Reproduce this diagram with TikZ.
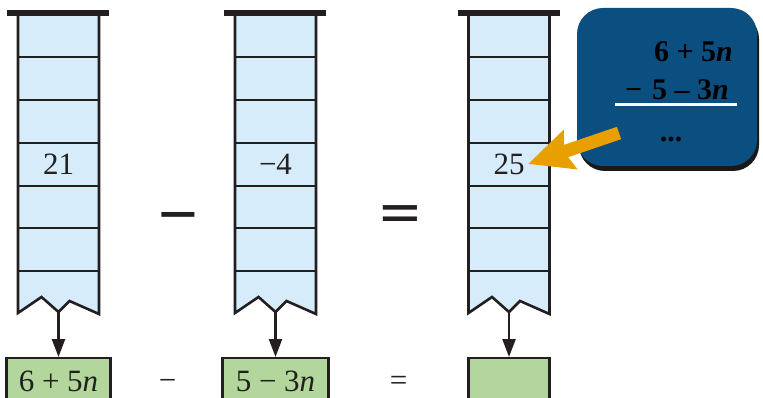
\documentclass[tikz,border=0pt]{standalone}
\usepackage{fontspec}
\setmainfont{Liberation Serif}
\newfontfamily\opfont{Liberation Sans}
\usetikzlibrary{arrows.meta,shadows}
\definecolor{cellfill}{HTML}{D6ECFA}
\definecolor{ink}{HTML}{231F20}
\definecolor{result}{HTML}{B2D69B}
\definecolor{noteblue}{HTML}{0B4F80}
\definecolor{pointer}{HTML}{E8A000}

\begin{document}
\begin{tikzpicture}[x=1pt, y=-1pt,
    every node/.style={text=ink, font=\fontsize{31}{31}\selectfont},
    cellline/.style={draw=ink, line width=2.6pt},
    capbar/.style={fill=ink},
    resultbox/.style={draw=ink, fill=result, line width=2.2pt, minimum height=46pt,
                anchor=north, inner sep=0pt},
    down/.style={-{Triangle[length=18pt,width=13pt]}, draw=ink, line width=2.4pt},
    op/.style={font=\opfont\fontsize{68}{68}\selectfont, anchor=base},
    note/.style={fill=noteblue, rounded corners=26pt, minimum width=180pt,
                 minimum height=158pt, inner sep=0pt,
                 drop shadow={shadow xshift=2pt, shadow yshift=-5pt, opacity=.9, fill=black}},
    sum/.style={text=black, inner sep=0pt, font=\bfseries\fontsize{30}{30}\selectfont},
    pointarr/.style={-{Stealth[length=44pt,width=40pt,inset=6pt]}, draw=pointer,
                     line width=13pt},
  ]
  \useasboundingbox (0,0) rectangle (763,398);
  \clip (0,0) rectangle (763,398);

  % the three stacks
  \foreach \c/\v/\n in {58.5/21/a, 275.5/{−4}/b, 509/25/c} {
    \fill[cellfill] (\c-40.5,16) -- (\c+40.5,16) -- (\c+40.5,314) -- (\c+11,301)
          -- (\c,312) -- (\c-17,297) -- (\c-40.5,313) -- cycle;
    \foreach \y in {57,100,143,186,228,271}
      \draw[cellline] (\c-40.5,\y) -- (\c+40.5,\y);
    \draw[cellline, line join=miter] (\c-40.5,16) -- (\c-40.5,313) -- (\c-17,297)
          -- (\c,312) -- (\c+11,301) -- (\c+40.5,314) -- (\c+40.5,16);
    \fill[capbar] (\c-51.5,10) rectangle (\c+50.5,16);
    \node (val\n) at (\c,164) {\v};
    \coordinate (tip\n) at (\c,312);
  }

  % operators between the stacks
  \node[op] (minus) at (178.5,237) {−};
  \node[op] (equals) at (400.5,228) {\scalebox{1}[0.62]{\bfseries =}};

  % results under the stacks
  \node[resultbox, minimum width=104pt] (outa) at (58.5,357) {6 + 5\textit{n}};
  \node[resultbox, minimum width=106pt] (outb) at (275.5,357) {5 − 3\textit{n}};
  \node[resultbox, minimum width=81pt]  (outc) at (509,357) {};
  \draw[down] (tipa) -- (outa.north);
  \draw[down] (tipb) -- (outb.north);
  \draw[down] (tipc) -- (outc.north);

  \node[anchor=base] (minus2) at (167.5,390) {−};
  \node[anchor=base] (equals2) at (398.5,390) {=};

  % the callout
  \node[note] (note) at (667,87) {};
  \node[sum, anchor=base east] (upper) at (733,62) {6 + 5\textit{n}};
  \node[sum, anchor=base east] (lower) at (729,100) {−\hspace{10pt}5 – 3\textit{n}};
  \draw[white, line width=3pt] (615,105) -- (737,105);
  \node[sum, anchor=base] (more) at (671,142) {...};

  \coordinate (tail) at (619,133);
  \draw[pointarr] (tail) -- (valc.east);
\end{tikzpicture}
\end{document}
